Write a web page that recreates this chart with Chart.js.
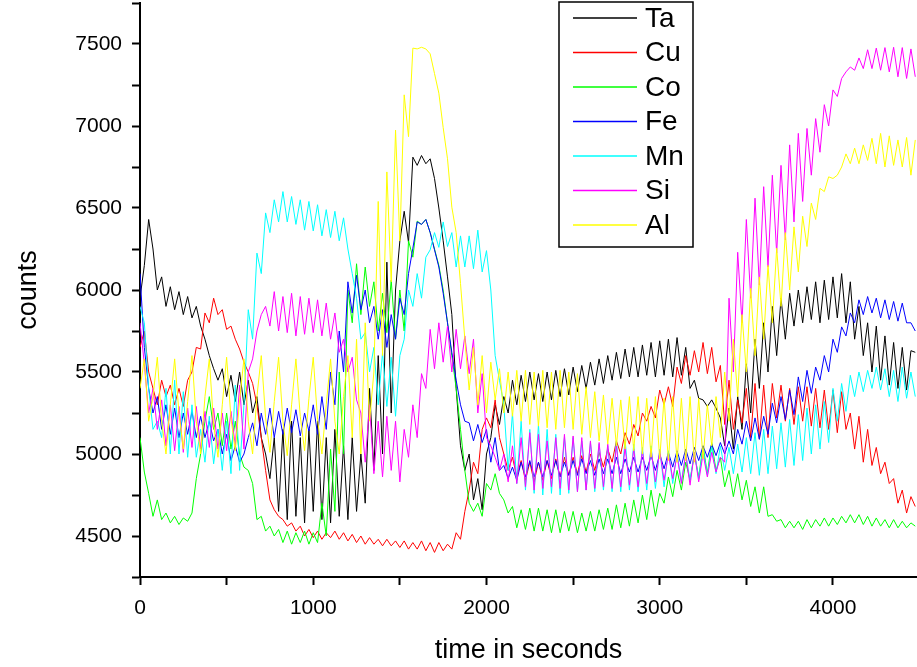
<!DOCTYPE html>
<html>
<head>
<meta charset="utf-8">
<title>counts vs time in seconds</title>
<script src="https://cdn.jsdelivr.net/npm/chart.js@4.4.1/dist/chart.umd.min.js"></script>
<style>
  html, body { margin: 0; padding: 0; background: #fff; }
</style>
</head>
<body>
<canvas id="chart" width="917" height="667"></canvas>
<script>
// one reading every 25 s
const SAMPLE_STEP = 25;

const TA = [
  5950,6150,6430,6250,6000,6080,5900,6020,5880,5990,5850,5960,5830,5900,5780,5700,5600,5520,5450,5520,
  5350,5480,5320,5500,5300,5450,5250,5350,5100,5000,4850,5100,4650,5150,4600,5200,4620,5100,4580,5150,
  4650,5200,4600,5100,4580,5150,4620,5050,4600,5100,4650,5000,4700,5400,4900,5600,5000,6170,5250,6000,
  6300,6480,6290,6810,6760,6820,6770,6800,6680,6500,6300,6080,5850,5400,5050,4900,5000,4720,4850,4660,
  5000,5100,5300,5180,5350,5250,5450,5300,5480,5320,5500,5330,5490,5320,5500,5330,5510,5350,5520,5360,
  5530,5380,5540,5400,5560,5420,5580,5430,5600,5450,5620,5460,5640,5470,5650,5470,5665,5480,5680,5470,
  5690,5480,5700,5470,5710,5480,5650,5400,5450,5340,5330,5290,5330,5280,5220,5050,5280,5030,5350,5150,
  5550,5250,5700,5400,5800,5500,5900,5600,5950,5700,5980,5780,6000,5800,6020,5820,6050,5800,6060,5820,
  6080,5830,6100,5800,6050,5700,5900,5600,5800,5500,5780,5450,5720,5420,5680,5400,5650,5390,5630,5620
];
const CU = [
  5650,5750,5500,5400,5300,5450,5350,5420,5300,5400,5290,5450,5500,5650,5640,5860,5800,5950,5850,5880,
  5760,5780,5700,5640,5560,5500,5430,5300,5100,4900,4720,4660,4620,4600,4560,4580,4530,4560,4500,4540,
  4490,4530,4480,4520,4490,4530,4480,4520,4470,4510,4460,4500,4450,4490,4450,4480,4440,4480,4440,4470,
  4430,4470,4420,4460,4420,4470,4410,4460,4400,4460,4410,4450,4420,4520,4480,4650,4780,4950,4880,5150,
  5220,5160,5330,5100,5000,4900,4980,4860,4960,4840,4950,4830,4950,4840,4960,4850,4970,4860,4980,4870,
  4980,4880,4990,4890,5000,4900,5010,4920,5030,4950,5080,5000,5130,5060,5180,5110,5250,5200,5290,5220,
  5390,5300,5410,5290,5530,5430,5600,5480,5630,5500,5680,5490,5650,5440,5540,5180,5450,5150,5330,5190,
  5400,5100,5430,5090,5420,5100,5430,5220,5420,5200,5400,5180,5410,5200,5410,5170,5400,5160,5390,5150,
  5390,5130,5380,5150,5250,5030,5230,4950,5150,4930,5040,4880,4950,4820,4850,4700,4780,4640,4740,4680
];
const CO = [
  5100,4890,4760,4620,4720,4600,4640,4580,4620,4570,4610,4590,4640,4850,5000,5200,5350,5150,5250,5050,
  5250,5030,5200,5000,4920,4900,4820,4600,4620,4530,4560,4500,4540,4460,4530,4450,4520,4460,4530,4450,
  4520,4460,4700,4500,5030,4650,5500,5000,6000,5800,6160,5850,6140,5900,6050,5750,5980,5740,6060,5700,
  6000,5750,6300,6200,6420,6400,6430,6350,6250,6150,6000,5800,5600,5400,5150,4900,4700,4650,4700,4620,
  4820,4780,4880,4760,4720,4640,4680,4550,4660,4540,4670,4530,4670,4530,4660,4520,4660,4520,4650,4530,
  4650,4520,4640,4530,4650,4530,4660,4540,4670,4540,4690,4550,4700,4560,4720,4580,4750,4600,4780,4620,
  4760,4700,4860,4740,4900,4780,4950,4840,5000,4860,5050,4880,5070,4900,4980,4800,4900,4740,4880,4720,
  4840,4680,4800,4640,4800,4620,4630,4590,4600,4550,4590,4550,4590,4540,4600,4550,4600,4560,4610,4560,
  4610,4570,4620,4580,4630,4580,4630,4570,4620,4560,4610,4560,4600,4550,4600,4550,4590,4550,4580,4560
];
const FE = [
  6100,5650,5400,5250,5350,5150,5300,5120,5280,5100,5250,5120,5260,5100,5230,5100,5200,5080,5150,5000,
  5120,4960,5050,4950,5000,5100,5190,5050,5250,5120,5280,5100,5260,5120,5280,5130,5270,5110,5250,5140,
  5300,5120,5350,5150,5500,5300,5750,5500,6050,5860,6090,5880,6000,5800,5900,5700,5880,5650,5850,5700,
  5950,5850,6100,6255,6415,6400,6430,6350,6245,6140,5980,5800,5620,5450,5300,5200,5190,5080,5180,5070,
  5150,4950,5100,4900,4930,4850,4920,4840,4950,4860,4960,4860,4950,4860,4960,4870,4960,4860,4950,4870,
  4960,4870,4970,4880,4960,4870,4970,4880,4970,4880,4980,4880,4970,4890,4980,4890,4980,4900,4990,4900,
  5000,4910,5010,4920,5020,4930,5030,4940,5040,4960,5050,4980,5060,4990,5070,5000,5080,5000,5150,5060,
  5200,5080,5220,5090,5230,5120,5310,5190,5350,5210,5390,5240,5470,5320,5510,5370,5530,5450,5600,5500,
  5700,5620,5775,5720,5860,5800,5940,5850,5960,5860,5950,5830,5940,5820,5930,5810,5920,5800,5800,5750
];
const MN = [
  5900,5800,5400,5150,5200,5100,5400,5000,5450,5000,5380,4980,5300,4980,5150,4950,5230,4940,5150,4900,
  5200,4880,5420,4900,5300,5880,5700,6225,6100,6470,6350,6550,6415,6600,6415,6570,6400,6550,6365,6540,
  6360,6520,6330,6490,6320,6480,6300,6440,6250,6100,5950,5700,5740,5500,5650,5300,5620,5290,5590,5230,
  5600,5700,6000,5900,6100,5950,6200,6245,6350,6260,6415,6265,6350,6140,6330,6140,6330,6130,6365,6110,
  6240,6000,5600,5450,5300,4900,5250,4820,5200,4780,5150,4760,5180,4750,5150,4760,5120,4750,5100,4760,
  5100,4770,5080,4780,5070,4770,5060,4780,5050,4770,5080,4770,5090,4780,5060,4770,5040,4780,5050,4790,
  5030,4800,5020,4820,5010,4830,5000,4840,5010,4850,5030,4870,5040,4880,5050,4900,5040,4880,5060,4890,
  5100,4880,5130,4870,5150,4880,5170,4910,5190,4920,5210,4930,5240,4960,5280,5000,5300,5030,5320,5070,
  5400,5200,5430,5260,5480,5350,5500,5380,5510,5400,5530,5390,5520,5350,5510,5320,5530,5340,5500,5350
];
const SI = [
  5800,5550,5250,5400,5150,5330,5050,5300,5020,5290,5010,5280,5040,5290,5030,5260,5040,5280,5030,5250,
  5020,5260,5050,5420,5030,5500,5580,5750,5850,5900,5780,5990,5750,5960,5740,5980,5720,5960,5730,5950,
  5740,5940,5720,5920,5700,5860,5620,5700,5500,5590,5330,5250,4950,5300,4880,5200,4860,5230,4900,5200,
  4830,5150,4980,5300,5100,5490,5400,5760,5520,5800,5560,5780,5500,5760,5520,5720,5490,5700,5250,5490,
  5100,5050,4980,4900,5000,4830,5050,4820,5100,4800,5130,4780,5120,4790,5080,4800,5100,4790,5120,4780,
  5110,4770,5100,4780,5080,4790,5070,4800,5060,4790,5050,4800,5040,4810,5030,4800,5020,4820,5030,4830,
  5020,4840,5000,4850,4990,4820,5000,4810,5010,4830,5000,4860,5010,4890,4980,4950,5950,5500,6230,5800,
  6430,5950,6560,6030,6630,6140,6700,6225,6760,6305,6885,6415,6955,6540,6985,6700,7045,6840,7130,7000,
  7220,7180,7290,7330,7360,7340,7415,7350,7465,7350,7475,7340,7478,7330,7480,7300,7478,7290,7470,7300
];
const AL = [
  5400,5580,5200,5350,5590,5200,5000,5300,5580,5250,5030,5320,5600,5200,5000,5350,5580,5180,4980,5300,
  5590,5220,5020,5330,5580,5200,5000,5350,5600,5220,5010,5320,5590,5200,4990,5300,5580,5230,5020,5340,
  5590,5210,5000,5300,5580,5200,5000,5350,5600,5100,5700,5000,5800,5200,5500,6540,5600,6720,6050,6975,
  6300,7190,6935,7475,7470,7480,7470,7440,7320,7200,6990,6800,6505,6350,6040,5700,5390,5650,5300,5600,
  5250,5560,5330,5520,5250,5500,5230,5510,5200,5510,5180,5500,5170,5510,5160,5500,5150,5510,5160,5500,
  5150,5490,5120,5410,5100,5380,5080,5360,5060,5340,5050,5330,5030,5350,5020,5350,5000,5340,4980,5350,
  4970,5340,4960,5350,4950,5340,4960,5350,4950,5340,4970,5300,5050,5350,5100,5500,5200,5700,5350,5850,
  5500,6010,5600,6080,5700,6150,5800,6255,5900,6350,6000,6385,6110,6450,6265,6530,6430,6620,6600,6690,
  6680,6700,6750,6830,6770,6865,6770,6885,6790,6925,6770,6955,6750,6940,6760,6915,6750,6930,6700,6915
];

const ELEMENTS = ["Ta", "Cu", "Co", "Fe", "Mn", "Si", "Al"];
const SERIES = [TA, CU, CO, FE, MN, SI, AL];
const COLORS = ["#000000", "#ff0000", "#00ff00", "#0000ff", "#00ffff", "#ff00ff", "#ffff00"];
const TIMES = TA.map((_, i) => i * SAMPLE_STEP);

const X_TICKS = [0, 500, 1000, 1500, 2000, 2500, 3000, 3500, 4000];
const Y_TICKS = [4250, 4500, 4750, 5000, 5250, 5500, 5750, 6000, 6250, 6500, 6750, 7000, 7250, 7500, 7750];

const FONT = "'Liberation Sans', Arial, sans-serif";

// boxed legend sitting inside the plot, like the original
const boxLegend = {
  id: "boxLegend",
  afterDraw(chart) {
    const ctx = chart.ctx;
    const x = 559, y = 2, w = 134, h = 245;
    ctx.save();
    ctx.fillStyle = "#fff";
    ctx.fillRect(x, y, w, h);
    ctx.strokeStyle = "#000";
    ctx.lineWidth = 1.5;
    ctx.strokeRect(x, y, w, h);
    ctx.font = "28px " + FONT;
    ctx.textBaseline = "middle";
    chart.data.datasets.forEach((ds, i) => {
      const ly = y + 16 + i * 34.5;
      ctx.strokeStyle = ds.borderColor;
      ctx.lineWidth = 1.5;
      ctx.beginPath();
      ctx.moveTo(x + 14, ly);
      ctx.lineTo(x + 78, ly);
      ctx.stroke();
      ctx.fillStyle = "#000";
      ctx.fillText(ds.label, x + 86, ly + 1);
    });
    ctx.restore();
  }
};

new Chart(document.getElementById("chart"), {
  type: "line",
  data: {
    datasets: ELEMENTS.map((name, i) => ({
      label: name,
      data: SERIES[i].map((v, k) => ({ x: TIMES[k], y: v })),
      borderColor: COLORS[i],
      borderWidth: 1,
      pointRadius: 0,
      tension: 0,
      fill: false,
      order: ELEMENTS.length - i
    }))
  },
  options: {
    responsive: false,
    animation: false,
    layout: { padding: { top: 3, right: 0, bottom: 0, left: 0 } },
    plugins: { legend: { display: false }, tooltip: { enabled: false } },
    scales: {
      x: {
        type: "linear",
        min: 0,
        max: 4485,
        afterBuildTicks: s => { s.ticks = X_TICKS.map(v => ({ value: v })); },
        afterFit: s => { s.height = 90; s.paddingLeft = 0; s.paddingRight = 0; },
        ticks: {
          autoSkip: false, maxRotation: 0, color: "#000", padding: 11,
          font: { family: FONT, size: 21 },
          callback: v => (v % 1000 === 0 ? String(v) : "")
        },
        grid: { drawOnChartArea: false, tickLength: 8, tickWidth: 2, tickColor: "#000" },
        border: { color: "#000", width: 2 },
        title: {
          display: true, text: "time in seconds", color: "#000",
          font: { family: FONT, size: 27 }, padding: { top: 0, bottom: 0 }
        }
      },
      y: {
        min: 4250,
        max: 7750,
        afterBuildTicks: s => { s.ticks = Y_TICKS.map(v => ({ value: v })); },
        afterFit: s => { s.width = 140; s.paddingTop = 0; s.paddingBottom = 0; },
        ticks: {
          autoSkip: false, color: "#000", padding: 10,
          font: { family: FONT, size: 21 },
          callback: v => (v % 500 === 0 ? String(v) : "")
        },
        grid: { drawOnChartArea: false, tickLength: 8, tickWidth: 2, tickColor: "#000" },
        border: { color: "#000", width: 2 },
        title: {
          display: true, text: "counts", color: "#000",
          font: { family: FONT, size: 27 }, padding: { top: 12, bottom: 0 }
        }
      }
    }
  },
  plugins: [boxLegend]
});
</script>
</body>
</html>
